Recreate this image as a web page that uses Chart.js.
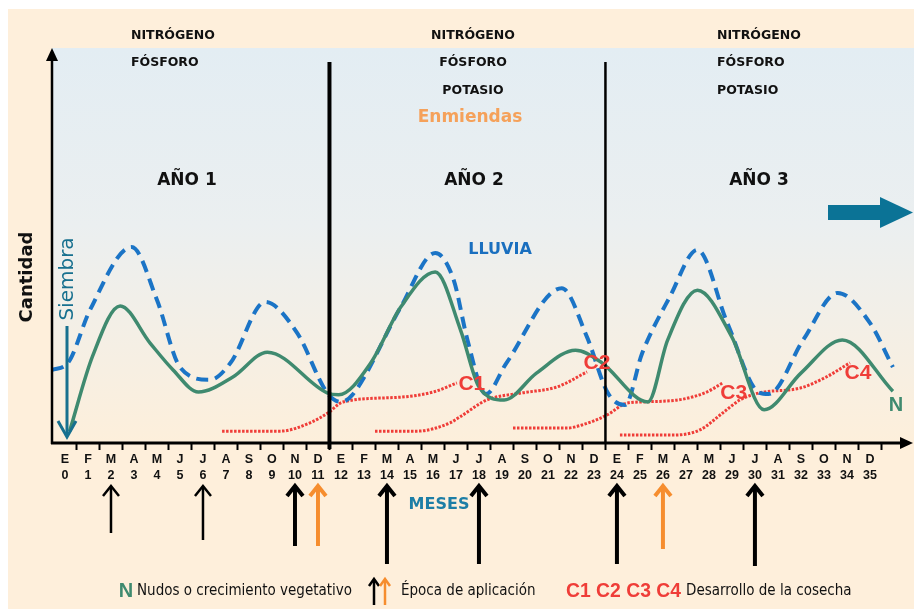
<!DOCTYPE html>
<html>
<head>
<meta charset="utf-8">
<script src="https://cdn.jsdelivr.net/npm/chart.js@4"></script>
<style>
  html, body { margin: 0; padding: 0; background: #fff; }
  canvas { display: block; }
</style>
</head>
<body>
<canvas id="ciclo" width="914" height="609"></canvas>
<script>
// etiquetas del eje x (meses)
var mesLetras = ['E','F','M','A','M','J','J','A','S','O','N','D',
                 'E','F','M','A','M','J','J','A','S','O','N','D',
                 'E','F','M','A','M','J','J','A','S','O','N','D'];
var mesNums = [0,1,2,3,4,5,6,7,8,9,10,11,12,13,14,15,16,17,18,19,20,21,22,23,
               24,25,26,27,28,29,30,31,32,33,34,35];

// N - nudos o crecimiento vegetativo
var nudosX = [0.2, 1.2, 2.4, 3.7, 4.7, 5.8, 7.3, 8.8, 11.4, 11.9, 13.3, 14.6, 16.1, 17.2, 18.0, 19.1, 20.5, 22.2, 23.3, 25.35, 26.2, 27.5, 29.0, 30.4, 32.0, 33.8, 36.0];
var nudosY = [3, 22, 34.7, 25.3, 18.5, 12.9, 16.7, 23, 12.7, 12.2, 20.3, 34.4, 43.3, 28.6, 14.2, 10.9, 17.7, 23.5, 20.5, 10.4, 26, 38.7, 26.8, 8.4, 17.7, 26.1, 13.1];

// lluvia
var lluviaX = [-0.57, 0.13, 1.09, 2.9, 4.0, 5.0, 6.3, 7.2, 8.7, 10.1, 11.4, 12.0, 12.5, 14.6, 16.1, 16.9, 17.5, 18.3, 19.2, 21.6, 22.7, 23.6, 24.35, 25.1, 26.3, 27.5, 28.8, 30.2, 30.6, 32.1, 33.6, 35.0, 36.0];
var lluviaY = [18.5, 20.3, 33.7, 49.6, 36.2, 19.2, 16, 20.3, 35.7, 27.8, 12.7, 10.4, 12.2, 34.4, 48.1, 41.3, 26.1, 12.4, 20.3, 39.2, 26.8, 12.7, 9.6, 22.8, 37, 48.9, 30.4, 12.7, 12.4, 26.1, 38, 30.4, 19.2];

// desarrollo de la cosecha
var c1X = [6.83, 9.35, 10.65, 11.43, 12.09, 14.57, 16.0, 17.04];
var c1Y = [3.0, 3.0, 5.1, 7.6, 10.4, 11.6, 12.9, 15.2];
var c2X = [13.48, 15.3, 16.74, 17.17, 18.35, 19.9, 21.4, 22.7];
var c2Y = [3.0, 3.0, 5.1, 6.6, 10.9, 12.7, 14.2, 18.0];
var c3X = [19.48, 21.83, 22.5, 23.57, 24.43, 25.13, 26.87, 27.9, 28.6];
var c3Y = [3.8, 3.8, 4.6, 7.1, 10.1, 10.4, 11.1, 12.9, 15.2];
var c4X = [24.13, 26.43, 27.6, 28.6, 29.35, 30.2, 31.96, 33.1, 34.13];
var c4Y = [2.0, 2.0, 3.3, 7.6, 10.9, 12.7, 13.9, 16.7, 20.3];

// epoca de aplicacion (mes)
var aplicNegro = [2, 6, 10, 14, 18, 24, 30];
var aplicNaranja = [11, 26];

function puntos(xs, ys) {
  return xs.map(function(x, i) { return {x: x, y: ys[i]}; });
}

var ROJO = '#ef3d38';
var VERDE = '#3f8a6f';
var AZUL = '#1b74c6';

function rojo(label, xs, ys) {
  return {
    label: label, data: puntos(xs, ys), borderColor: ROJO, borderWidth: 3,
    borderDash: [2.5, 1.5], pointRadius: 0, cubicInterpolationMode: 'monotone', fill: false
  };
}

// largo de cada flecha de aplicacion (px)
var largoFlecha = {2: 48, 6: 55, 10: 61, 11: 61, 14: 79, 18: 79, 24: 79, 26: 64, 30: 81};

function flecha(ctx, x, yTop, yBot, color, w) {
  ctx.strokeStyle = color;
  ctx.lineWidth = w;
  ctx.lineCap = 'butt';
  ctx.lineJoin = 'miter';
  ctx.beginPath();
  ctx.moveTo(x, yBot);
  ctx.lineTo(x, yTop + 2);
  ctx.stroke();
  ctx.beginPath();
  ctx.moveTo(x - 8, yTop + 11);
  ctx.lineTo(x, yTop + 1);
  ctx.lineTo(x + 8, yTop + 11);
  ctx.stroke();
}

function texto(ctx, t, x, y, font, color, align) {
  ctx.font = font;
  ctx.fillStyle = color;
  ctx.textAlign = align || 'center';
  ctx.textBaseline = 'middle';
  ctx.fillText(t, x, y);
}

var fondo = {
  id: 'fondo',
  beforeDraw: function(chart) {
    var ctx = chart.ctx, a = chart.chartArea;
    ctx.save();
    ctx.fillStyle = '#ffffff';
    ctx.fillRect(0, 0, chart.width, chart.height);
    ctx.fillStyle = '#feefdb';
    ctx.fillRect(8, 9, chart.width - 8, chart.height - 9);
    var g = ctx.createLinearGradient(0, a.top, 0, a.bottom);
    g.addColorStop(0, '#e3edf3');
    g.addColorStop(0.45, '#ebeff0');
    g.addColorStop(1, '#fdefdb');
    ctx.fillStyle = g;
    ctx.fillRect(a.left, a.top, chart.width - a.left, a.bottom - a.top);
    ctx.restore();
  }
};

var dibujo = {
  id: 'dibujo',
  afterDatasetsDraw: function(chart) {
    var ctx = chart.ctx, a = chart.chartArea, sx = chart.scales.x;
    ctx.save();
    // separacion de años
    ctx.strokeStyle = '#000';
    ctx.lineWidth = 4;
    var s1 = sx.getPixelForValue(11.5);
    ctx.beginPath(); ctx.moveTo(s1, 62); ctx.lineTo(s1, a.bottom + 6); ctx.stroke();
    ctx.lineWidth = 2.5;
    var s2 = sx.getPixelForValue(23.5);
    ctx.beginPath(); ctx.moveTo(s2, 62); ctx.lineTo(s2, a.bottom); ctx.stroke();

    // ejes con flechas
    ctx.lineWidth = 2.5;
    ctx.beginPath(); ctx.moveTo(a.left, a.bottom + 1); ctx.lineTo(a.left, a.top + 10); ctx.stroke();
    ctx.fillStyle = '#000';
    ctx.beginPath(); ctx.moveTo(a.left, a.top); ctx.lineTo(a.left - 6, a.top + 13); ctx.lineTo(a.left + 6, a.top + 13); ctx.closePath(); ctx.fill();
    ctx.lineWidth = 3;
    ctx.beginPath(); ctx.moveTo(a.left - 1, a.bottom); ctx.lineTo(a.right - 8, a.bottom); ctx.stroke();
    ctx.beginPath(); ctx.moveTo(a.right + 1, a.bottom); ctx.lineTo(a.right - 12, a.bottom - 6); ctx.lineTo(a.right - 12, a.bottom + 6); ctx.closePath(); ctx.fill();
    ctx.lineWidth = 2;
    for (var i = 0; i < mesNums.length; i++) {
      var tx = Math.round(sx.getPixelForValue(mesNums[i] + 0.5)) + 0.5;
      ctx.beginPath(); ctx.moveTo(tx, a.bottom); ctx.lineTo(tx, a.bottom + 7); ctx.stroke();
    }

    // siembra
    var sxp = 67;
    ctx.strokeStyle = '#17708f';
    ctx.lineWidth = 3;
    ctx.beginPath(); ctx.moveTo(sxp, 326); ctx.lineTo(sxp, 436); ctx.stroke();
    ctx.beginPath(); ctx.moveTo(sxp - 9, 421); ctx.lineTo(sxp, 437); ctx.lineTo(sxp + 9, 421); ctx.stroke();
    ctx.restore();
  },
  afterDraw: function(chart) {
    var ctx = chart.ctx, sx = chart.scales.x, sy = chart.scales.y;
    ctx.save();
    var fB = 'bold 12.5px "DejaVu Sans"';
    // año 1
    texto(ctx, 'NITRÓGENO', 131, 36, fB, '#111', 'left');
    texto(ctx, 'FÓSFORO', 131, 63, fB, '#111', 'left');
    // año 2
    texto(ctx, 'NITRÓGENO', 473, 36, fB, '#111');
    texto(ctx, 'FÓSFORO', 473, 63, fB, '#111');
    texto(ctx, 'POTASIO', 473, 91, fB, '#111');
    texto(ctx, 'Enmiendas', 470, 118, 'bold 17px "DejaVu Sans"', '#f5a15a');
    // año 3
    texto(ctx, 'NITRÓGENO', 717, 36, fB, '#111', 'left');
    texto(ctx, 'FÓSFORO', 717, 63, fB, '#111', 'left');
    texto(ctx, 'POTASIO', 717, 91, fB, '#111', 'left');

    var fA = 'bold 17px "DejaVu Sans"';
    texto(ctx, 'AÑO 1', 187, 181, fA, '#111');
    texto(ctx, 'AÑO 2', 474, 181, fA, '#111');
    texto(ctx, 'AÑO 3', 759, 181, fA, '#111');

    // flecha grande
    ctx.fillStyle = '#0b7396';
    ctx.fillRect(828, 205, 54, 15);
    ctx.beginPath(); ctx.moveTo(913, 212.5); ctx.lineTo(880, 197); ctx.lineTo(880, 228); ctx.closePath(); ctx.fill();

    texto(ctx, 'LLUVIA', 500, 250, 'bold 16px "DejaVu Sans"', '#1a6fbf');
    texto(ctx, 'MESES', 439, 505, 'bold 16px "DejaVu Sans"', '#1d7ea6');

    // ejes: títulos
    ctx.save();
    ctx.translate(27, 277); ctx.rotate(-Math.PI / 2);
    texto(ctx, 'Cantidad', 0, 0, 'bold 18px "DejaVu Sans"', '#111');
    ctx.restore();
    ctx.save();
    ctx.translate(68, 279); ctx.rotate(-Math.PI / 2);
    texto(ctx, 'Siembra', 0, 0, '20px "DejaVu Sans"', '#17708f');
    ctx.restore();

    // etiquetas de las cosechas al final de cada curva
    var fC = 'bold 21px "Liberation Sans"';
    var fin = function(xs, ys) { var n = xs.length - 1; return [sx.getPixelForValue(xs[n]), sy.getPixelForValue(ys[n])]; };
    var p = fin(c1X, c1Y); texto(ctx, 'C1', p[0] + 15, p[1] + 1, fC, ROJO);
    p = fin(c2X, c2Y); texto(ctx, 'C2', p[0] + 10, p[1] - 9, fC, ROJO);
    p = fin(c3X, c3Y); texto(ctx, 'C3', p[0] + 11, p[1] + 10, fC, ROJO);
    p = fin(c4X, c4Y); texto(ctx, 'C4', p[0] + 8, p[1] + 10, fC, ROJO);
    p = fin(nudosX, nudosY); texto(ctx, 'N', p[0] + 3, p[1] + 14, 'bold 20px "Liberation Sans"', VERDE);

    // epoca de aplicacion
    aplicNegro.forEach(function(m) {
      var x = sx.getPixelForValue(m);
      flecha(ctx, x, 485, 485 + largoFlecha[m], '#000', m < 10 ? 2.5 : 4);
    });
    aplicNaranja.forEach(function(m) {
      var x = sx.getPixelForValue(m);
      flecha(ctx, x, 485, 485 + largoFlecha[m], '#f68d2e', 4);
    });

    // leyenda inferior
    var fL = '15px "Liberation Sans Narrow", "DejaVu Sans Condensed", sans-serif';
    texto(ctx, 'N', 126, 591, 'bold 20px "Liberation Sans Narrow", "Liberation Sans"', VERDE);
    ctx.font = fL; ctx.fillStyle = '#111'; ctx.textAlign = 'left'; ctx.textBaseline = 'middle';
    ctx.fillText('Nudos o crecimiento vegetativo', 137, 591, 218);
    var fl = function(x, c) {
      ctx.strokeStyle = c; ctx.lineWidth = 2.5;
      ctx.beginPath(); ctx.moveTo(x, 605); ctx.lineTo(x, 580); ctx.stroke();
      ctx.beginPath(); ctx.moveTo(x - 5, 586); ctx.lineTo(x, 579); ctx.lineTo(x + 5, 586); ctx.stroke();
    };
    fl(374, '#000'); fl(385, '#f68d2e');
    ctx.font = fL; ctx.fillStyle = '#111'; ctx.textAlign = 'left';
    ctx.fillText('Época de aplicación', 401, 591, 137);
    ctx.font = 'bold 21px "Liberation Sans Narrow", "Liberation Sans"'; ctx.fillStyle = ROJO;
    ctx.fillText('C1 C2 C3 C4', 566, 591, 115);
    ctx.font = fL; ctx.fillStyle = '#111';
    ctx.fillText('Desarrollo de la cosecha', 686, 591, 168);
    ctx.restore();
  }
};

new Chart(document.getElementById('ciclo'), {
  type: 'line',
  data: {
    datasets: [
      {
        label: 'N', data: puntos(nudosX, nudosY), borderColor: VERDE, borderWidth: 3.5,
        pointRadius: 0, cubicInterpolationMode: 'monotone', fill: false
      },
      {
        label: 'LLUVIA', data: puntos(lluviaX, lluviaY), borderColor: AZUL, borderWidth: 4,
        borderDash: [12, 7], pointRadius: 0, cubicInterpolationMode: 'monotone', fill: false
      },
      rojo('C1', c1X, c1Y),
      rojo('C2', c2X, c2Y),
      rojo('C3', c3X, c3Y),
      rojo('C4', c4X, c4Y)
    ]
  },
  options: {
    responsive: false,
    animation: false,
    devicePixelRatio: 1,
    layout: { padding: { left: 52, right: 2, top: 48, bottom: 0 } },
    plugins: { legend: { display: false }, tooltip: { enabled: false } },
    scales: {
      x: {
        type: 'linear', min: -0.565, max: 36.83,
        grid: { display: false, drawTicks: false },
        border: { display: false },
        afterBuildTicks: function(s) { s.ticks = mesNums.map(function(v) { return { value: v }; }); },
        afterFit: function(s) { s.height = 166; },
        ticks: {
          autoSkip: false, maxRotation: 0, padding: 9, color: '#111',
          font: { family: '"Liberation Sans", Arial', weight: 'bold', size: 12.5, lineHeight: 1.25 },
          callback: function(v, i) { return [mesLetras[i], String(mesNums[i])]; }
        }
      },
      y: { min: 0, max: 100, display: false }
    }
  },
  plugins: [fondo, dibujo]
});
</script>
</body>
</html>
